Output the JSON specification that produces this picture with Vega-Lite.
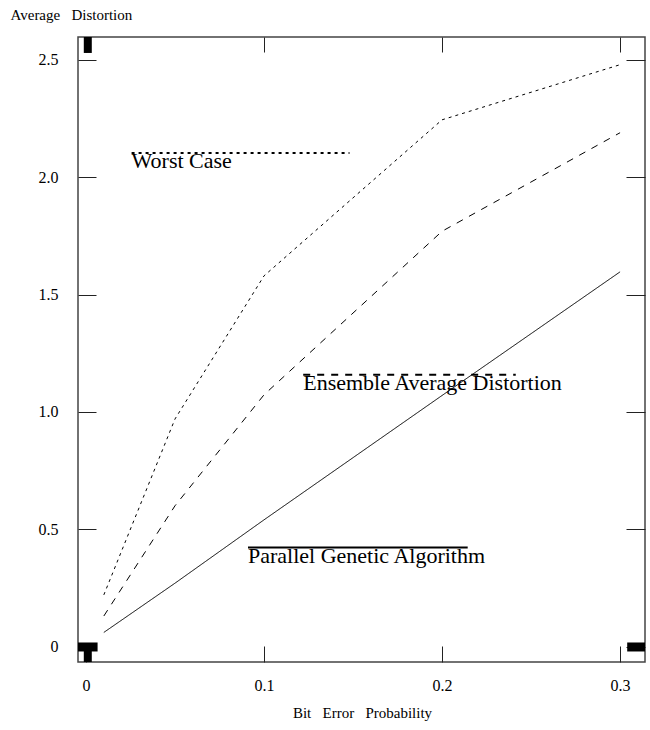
{
  "$schema": "https://vega.github.io/schema/vega-lite/v6.json",
  "width": 567,
  "height": 625,
  "autosize": "none",
  "padding": {"left": 78, "top": 37, "right": 5, "bottom": 68},
  "config": {
    "view": {"stroke": "#444", "strokeWidth": 1.5},
    "font": "Liberation Serif",
    "axis": {"grid": false, "domain": false, "labelFont": "Liberation Serif", "titleFont": "Liberation Serif", "labelColor": "#000", "titleColor": "#000", "titleFontWeight": "normal", "tickColor": "#222"}
  },
  "datasets": {
    "curves": [
      {"series": "Worst", "x": 0.01, "y": 0.22},
      {"series": "Worst", "x": 0.05, "y": 0.97},
      {"series": "Worst", "x": 0.1, "y": 1.58},
      {"series": "Worst", "x": 0.2, "y": 2.245},
      {"series": "Worst", "x": 0.3, "y": 2.48},
      {"series": "Ensemble", "x": 0.01, "y": 0.13},
      {"series": "Ensemble", "x": 0.05, "y": 0.6},
      {"series": "Ensemble", "x": 0.1, "y": 1.073},
      {"series": "Ensemble", "x": 0.2, "y": 1.77},
      {"series": "Ensemble", "x": 0.3, "y": 2.19},
      {"series": "PGA", "x": 0.01, "y": 0.06},
      {"series": "PGA", "x": 0.05, "y": 0.27},
      {"series": "PGA", "x": 0.1, "y": 0.54},
      {"series": "PGA", "x": 0.2, "y": 1.07},
      {"series": "PGA", "x": 0.3, "y": 1.597}
    ],
    "keys": [
      {"series": "Worst", "label": "Worst Case", "x": 0.0256, "x2": 0.148, "y": 2.104},
      {"series": "Ensemble", "label": "Ensemble Average Distortion", "x": 0.122, "x2": 0.2414, "y": 1.158},
      {"series": "PGA", "label": "Parallel Genetic Algorithm", "x": 0.091, "x2": 0.2144, "y": 0.4216}
    ],
    "hblobs": [
      {"x": -0.0045, "x2": 0.0065, "y": -0.002},
      {"x": 0.304, "x2": 0.314, "y": -0.002}
    ],
    "vblobs": [
      {"x": 0.001, "y": 2.598, "y2": 2.53},
      {"x": 0.001, "y": -0.002, "y2": -0.066}
    ]
  },
  "resolve": {"axis": {"x": "independent", "y": "independent"}},
  "layer": [
    {
      "data": {"name": "curves"},
      "mark": {"type": "line", "color": "#000", "strokeWidth": 1},
      "encoding": {
        "x": {"field": "x", "type": "quantitative", "scale": {"domain": [-0.0045, 0.314], "nice": false, "zero": false},
          "axis": {"orient": "bottom", "values": [0, 0.1, 0.2, 0.3], "labelExpr": "datum.value == 0 ? '0' : format(datum.value, '.1f')", "tickSize": -16, "labelPadding": 31, "labelFontSize": 16, "title": "Bit\u00a0\u00a0\u00a0Error\u00a0\u00a0\u00a0Probability", "titleFontSize": 15, "titleAnchor": "start", "titleAlign": "center", "titleX": 284, "titleY": 50, "titleBaseline": "middle"}},
        "y": {"field": "y", "type": "quantitative", "scale": {"domain": [-0.066, 2.598], "nice": false, "zero": false},
          "axis": {"orient": "left", "values": [0, 0.5, 1, 1.5, 2, 2.5], "labelExpr": "datum.value == 0 ? '0' : format(datum.value, '.1f')", "tickSize": -18, "labelPadding": 38, "labelFontSize": 16, "title": "Average\u00a0\u00a0\u00a0Distortion", "titleFontSize": 15, "titleAngle": 0, "titleAlign": "left", "titleBaseline": "middle", "titleX": -68, "titleY": -23}},
        "strokeDash": {"field": "series", "type": "nominal", "scale": {"domain": ["Worst", "Ensemble", "PGA"], "range": [[3, 4], [7, 7], [1, 0]]}, "legend": null},
        "detail": {"field": "series"}
      }
    },
    {
      "data": {"name": "keys"},
      "mark": {"type": "rule", "color": "#000", "strokeWidth": 2},
      "encoding": {
        "x": {"field": "x", "type": "quantitative", "axis": {"orient": "top", "values": [0, 0.1, 0.2, 0.3], "labels": false, "tickSize": -15, "title": null}},
        "x2": {"field": "x2"},
        "y": {"field": "y", "type": "quantitative", "axis": {"orient": "right", "values": [0, 0.5, 1, 1.5, 2, 2.5], "labels": false, "tickSize": -19, "title": null}},
        "strokeDash": {"field": "series", "type": "nominal", "scale": {"domain": ["Worst", "Ensemble", "PGA"], "range": [[5, 3], [8, 5], [1, 0]]}, "legend": null}
      }
    },
    {
      "data": {"name": "keys"},
      "mark": {"type": "text", "align": "left", "baseline": "alphabetic", "dy": 15, "fontSize": 22, "font": "Liberation Serif", "color": "#000"},
      "encoding": {
        "x": {"field": "x", "type": "quantitative", "axis": null},
        "y": {"field": "y", "type": "quantitative", "axis": null},
        "text": {"field": "label"}
      }
    },
    {
      "data": {"name": "hblobs"},
      "mark": {"type": "rule", "color": "#000", "strokeWidth": 9},
      "encoding": {
        "x": {"field": "x", "type": "quantitative", "axis": null},
        "x2": {"field": "x2"},
        "y": {"field": "y", "type": "quantitative", "axis": null}
      }
    },
    {
      "data": {"name": "vblobs"},
      "mark": {"type": "rule", "color": "#000", "strokeWidth": 8},
      "encoding": {
        "x": {"field": "x", "type": "quantitative", "axis": null},
        "y": {"field": "y", "type": "quantitative", "axis": null},
        "y2": {"field": "y2"}
      }
    }
  ]
}
